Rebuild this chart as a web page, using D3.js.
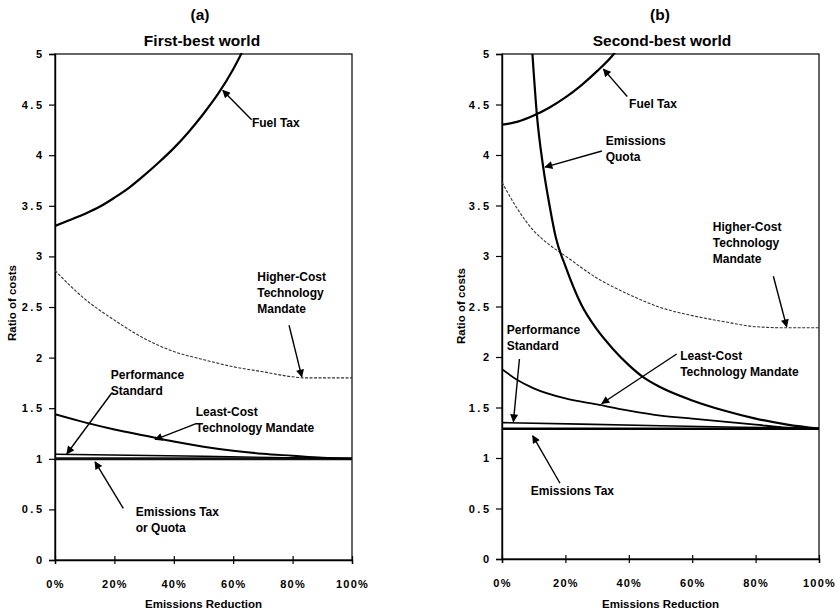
<!DOCTYPE html>
<html>
<head>
<meta charset="utf-8">
<script src="https://cdn.jsdelivr.net/npm/d3@7"></script>
<style>
  html, body { margin: 0; padding: 0; background: #fff; }
  svg { display: block; }
  text { font-family: "Liberation Sans", Arial, sans-serif; fill: #000; }
</style>
</head>
<body>
<svg id="chart" width="837" height="612"></svg>
<script>
// ---------- DATA ----------
const xTickValues = [0, 20, 40, 60, 80, 100];
const xTickLabels = ["0%", "20%", "40%", "60%", "80%", "100%"];
const yTickValues = [0, 0.5, 1, 1.5, 2, 2.5, 3, 3.5, 4, 4.5, 5];
const yTickLabels = ["0", "0.5", "1", "1.5", "2", "2.5", "3", "3.5", "4", "4.5", "5"];

const panelLetters = ["(a)", "(b)"];
const panelTitles = ["First-best world", "Second-best world"];
const xAxisTitle = "Emissions Reduction";
const yAxisTitle = "Ratio of costs";

// Panel (a): first-best world
const aFuelTaxX = [0, 5, 10, 15, 20, 25, 30, 35, 40, 45, 50, 55, 60, 62, 63];
const aFuelTaxY = [3.30, 3.36, 3.42, 3.49, 3.58, 3.68, 3.80, 3.93, 4.07, 4.23, 4.41, 4.61, 4.85, 4.96, 5.02];
const aHigherCostX = [0, 10, 20, 30, 40, 50, 60, 70, 80, 84, 90, 100];
const aHigherCostY = [2.86, 2.58, 2.37, 2.19, 2.06, 1.98, 1.91, 1.86, 1.81, 1.80, 1.80, 1.80];
const aLeastCostX = [0, 10, 20, 30, 40, 50, 60, 70, 80, 90, 100];
const aLeastCostY = [1.44, 1.36, 1.29, 1.23, 1.17, 1.12, 1.08, 1.05, 1.03, 1.01, 1.00];
const aPerfStdX = [0, 50, 100];
const aPerfStdY = [1.045, 1.025, 1.0];
const aEmTaxX = [0, 100];
const aEmTaxY = [1.0, 1.0];

// Panel (b): second-best world
const bFuelTaxX = [0, 5, 10, 15, 20, 25, 30, 35, 36];
const bFuelTaxY = [4.30, 4.33, 4.39, 4.47, 4.57, 4.69, 4.83, 4.99, 5.03];
const bQuotaX = [9.6, 11, 13, 15, 17, 20, 25, 30, 35, 40, 45, 50, 60, 70, 80, 90, 100];
const bQuotaY = [5.0, 4.40, 3.88, 3.50, 3.18, 2.90, 2.52, 2.27, 2.08, 1.92, 1.79, 1.70, 1.57, 1.47, 1.39, 1.33, 1.29];
const bHigherCostX = [0, 5, 10, 15, 20, 30, 40, 50, 60, 70, 80, 88, 100];
const bHigherCostY = [3.73, 3.46, 3.25, 3.11, 3.00, 2.78, 2.62, 2.49, 2.41, 2.35, 2.30, 2.29, 2.29];
const bLeastCostX = [0, 5, 10, 20, 30, 40, 50, 60, 70, 80, 90, 100];
const bLeastCostY = [1.88, 1.77, 1.69, 1.59, 1.53, 1.47, 1.42, 1.39, 1.36, 1.33, 1.30, 1.29];
const bPerfStdX = [0, 50, 100];
const bPerfStdY = [1.35, 1.32, 1.29];
const bEmTaxX = [0, 100];
const bEmTaxY = [1.29, 1.29];

// Annotations (data coordinates): label lines, text anchor point, arrow start, arrow tip
const aNotes = [
  { lines: ["Fuel Tax"], tx: 66.3, ty: 4.28, x1: 66.2, y1: 4.35, x2: 56.5, y2: 4.64 },
  { lines: ["Higher-Cost", "Technology", "Mandate"], tx: 68.1, ty: 2.76, x1: 78.8, y1: 2.32, x2: 83.1, y2: 1.81 },
  { lines: ["Performance", "Standard"], tx: 18.8, ty: 1.79, x1: 19.1, y1: 1.65, x2: 4.0, y2: 1.05 },
  { lines: ["Least-Cost", "Technology Mandate"], tx: 47.4, ty: 1.42, x1: 47.7, y1: 1.35, x2: 33.7, y2: 1.19 },
  { lines: ["Emissions Tax", "or Quota"], tx: 27.2, ty: 0.435, x1: 23.0, y1: 0.51, x2: 13.5, y2: 0.97 }
];
const bNotes = [
  { lines: ["Fuel Tax"], tx: 40.1, ty: 4.47, x1: 39.5, y1: 4.58, x2: 32.0, y2: 4.85 },
  { lines: ["Emissions", "Quota"], tx: 32.7, ty: 4.10, x1: 31.5, y1: 4.04, x2: 13.6, y2: 3.88 },
  { lines: ["Higher-Cost", "Technology", "Mandate"], tx: 66.5, ty: 3.25, x1: 85.6, y1: 2.80, x2: 89.8, y2: 2.30 },
  { lines: ["Performance", "Standard"], tx: 1.5, ty: 2.23, x1: 5.5, y1: 1.98, x2: 3.6, y2: 1.36 },
  { lines: ["Least-Cost", "Technology Mandate"], tx: 56.2, ty: 1.97, x1: 55.1, y1: 2.03, x2: 31.5, y2: 1.54 },
  { lines: ["Emissions Tax"], tx: 9.1, ty: 0.63, x1: 18.3, y1: 0.75, x2: 9.7, y2: 1.22 }
];

// ---------- DRAW ----------
const svg = d3.select("#chart");
const defs = svg.append("defs");
defs.append("marker")
  .attr("id", "arrow")
  .attr("viewBox", "0 0 10 10")
  .attr("refX", 9).attr("refY", 5)
  .attr("markerUnits", "userSpaceOnUse")
  .attr("markerWidth", 9).attr("markerHeight", 8)
  .attr("orient", "auto")
  .append("path").attr("d", "M0,0 L10,5 L0,10 Z").attr("fill", "#000");

const panels = [
  {
    left: 55, right: 352, top: 54, bottom: 560, cx: 200,
    yLabelX: 12, yTitleY: 303,
    series: [
      { x: aHigherCostX, y: aHigherCostY, w: 1.1, dash: "3,1.5", color: "#333" },
      { x: aEmTaxX, y: aEmTaxY, w: 3, color: "#111" },
      { x: aPerfStdX, y: aPerfStdY, w: 1.4, color: "#000" },
      { x: aLeastCostX, y: aLeastCostY, w: 2, color: "#000" },
      { x: aFuelTaxX, y: aFuelTaxY, w: 2.2, color: "#000" }
    ],
    notes: aNotes
  },
  {
    left: 502, right: 819, top: 54, bottom: 559, cx: 660,
    yLabelX: 461, yTitleY: 306,
    series: [
      { x: bHigherCostX, y: bHigherCostY, w: 1.1, dash: "3,1.5", color: "#333" },
      { x: bEmTaxX, y: bEmTaxY, w: 2.6, color: "#000" },
      { x: bPerfStdX, y: bPerfStdY, w: 1.6, color: "#000" },
      { x: bLeastCostX, y: bLeastCostY, w: 1.8, color: "#000" },
      { x: bQuotaX, y: bQuotaY, w: 2.2, color: "#000" },
      { x: bFuelTaxX, y: bFuelTaxY, w: 2.2, color: "#000" }
    ],
    notes: bNotes
  }
];

panels.forEach((p, i) => {
  const x = d3.scaleLinear().domain([0, 100]).range([p.left, p.right]);
  const y = d3.scaleLinear().domain([0, 5]).range([p.bottom, p.top]);
  const g = svg.append("g");

  // titles
  g.append("text").attr("x", p.cx).attr("y", 20).attr("text-anchor", "middle")
    .attr("font-size", 15.5).attr("font-weight", "bold").text(panelLetters[i]);
  g.append("text").attr("x", p.cx + 2).attr("y", 46).attr("text-anchor", "middle")
    .attr("font-size", 15.5).attr("font-weight", "bold").text(panelTitles[i]);

  // clip
  const cid = "clip" + i;
  defs.append("clipPath").attr("id", cid).append("rect")
    .attr("x", p.left).attr("y", p.top - 1)
    .attr("width", p.right - p.left).attr("height", p.bottom - p.top + 2);

  // frame
  g.append("rect").attr("x", p.left).attr("y", p.top)
    .attr("width", p.right - p.left).attr("height", p.bottom - p.top)
    .attr("fill", "none").attr("stroke", "#000").attr("stroke-width", 1.2);

  // y axis
  const yAxis = d3.axisLeft(y).tickValues(yTickValues)
    .tickFormat((d, k) => yTickLabels[k]).tickSize(6).tickPadding(7);
  const ya = g.append("g").attr("transform", `translate(${p.left},0)`).call(yAxis);
  ya.select(".domain").attr("stroke", "#000").attr("stroke-width", 1.4);
  ya.selectAll(".tick line").attr("stroke", "#000").attr("stroke-width", 1.2).attr("x2", -6).attr("x1", 1);
  ya.selectAll(".tick text").attr("font-size", 11).attr("font-weight", "bold")
    .attr("font-family", "Liberation Sans, Arial, sans-serif")
    .attr("letter-spacing", "2.5px").attr("dx", "2.5px");

  // x axis
  const xAxis = d3.axisBottom(x).tickValues(xTickValues)
    .tickFormat((d, k) => xTickLabels[k]).tickSize(4).tickPadding(16);
  const xa = g.append("g").attr("transform", `translate(0,${p.bottom})`).call(xAxis);
  xa.select(".domain").attr("stroke", "#000").attr("stroke-width", 1.4);
  xa.selectAll(".tick line").attr("stroke", "#000").attr("stroke-width", 1.2).attr("y1", -4).attr("y2", 4);
  xa.selectAll(".tick text").attr("font-size", 11).attr("font-weight", "bold")
    .attr("font-family", "Liberation Sans, Arial, sans-serif")
    .attr("letter-spacing", "1.2px");

  // axis titles
  g.append("text").attr("x", (p.left + p.right) / 2).attr("y", 608).attr("text-anchor", "middle")
    .attr("font-size", 11.5).attr("font-weight", "bold").text(xAxisTitle);
  g.append("text").attr("transform", `translate(${p.yLabelX + 4},${p.yTitleY}) rotate(-90)`)
    .attr("text-anchor", "middle").attr("font-size", 11.5).attr("font-weight", "bold").text(yAxisTitle);

  // series
  const line = d3.line().x(d => x(d[0])).y(d => y(d[1])).curve(d3.curveMonotoneX);
  const sg = g.append("g").attr("clip-path", `url(#${cid})`);
  p.series.forEach(s => {
    const pts = s.x.map((v, k) => [v, s.y[k]]);
    sg.append("path").attr("d", line(pts)).attr("fill", "none")
      .attr("stroke", s.color).attr("stroke-width", s.w)
      .attr("stroke-dasharray", s.dash || null)
      .attr("stroke-linejoin", "round");
  });

  // annotations
  p.notes.forEach(n => {
    g.append("line").attr("x1", x(n.x1)).attr("y1", y(n.y1))
      .attr("x2", x(n.x2)).attr("y2", y(n.y2))
      .attr("stroke", "#000").attr("stroke-width", 1.4)
      .attr("marker-end", "url(#arrow)");
    const t = g.append("text").attr("x", x(n.tx)).attr("y", y(n.ty))
      .attr("font-size", 12).attr("font-weight", "bold");
    n.lines.forEach((ln, k) => {
      t.append("tspan").attr("x", x(n.tx)).attr("dy", k === 0 ? 0 : 16).text(ln);
    });
  });
});
</script>
</body>
</html>
